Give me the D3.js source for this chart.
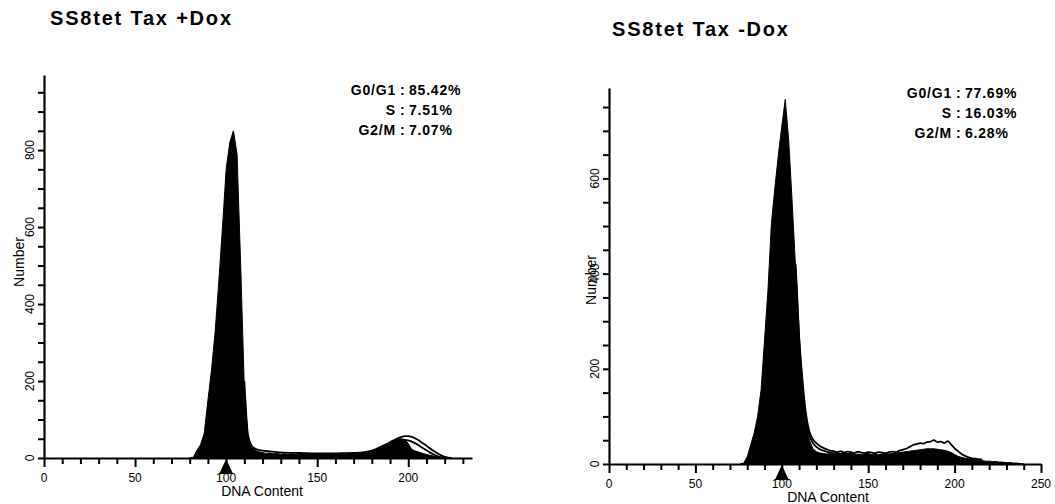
<html>
  <script src="https://d3js.org/d3.v7.min.js"></script>
  <body style="margin:0;background:#fff">
    <script>
      // ---- SS8tet Tax +Dox ----
      let leftChannels = [80, 82, 84, 86, 88, 90, 92, 94, 96, 98,
                          100, 102, 104, 106, 108, 110, 112, 114, 116, 118,
                          120, 122, 124, 126, 128, 130, 132, 134, 136, 138,
                          140, 142, 144, 146, 148, 150, 152, 154, 156, 158,
                          160, 162, 164, 166, 168, 170, 172, 174, 176, 178,
                          180, 182, 184, 186, 188, 190, 192, 194, 196, 198,
                          200, 202, 204, 206, 208, 210, 212, 214, 216, 218, 220];
      let leftCounts = [0, 2, 20, 35, 65, 150, 230, 330, 460, 600,
                        750, 820, 850, 790, 500, 180, 50, 28, 20, 16,
                        14, 12, 13, 11, 12, 10, 11, 9, 11, 10,
                        9, 11, 10, 9, 11, 10, 9, 10, 11, 9,
                        10, 11, 10, 9, 11, 12, 11, 13, 14, 16,
                        18, 22, 26, 30, 36, 42, 46, 48, 50, 48,
                        38, 22, 18, 15, 12, 9, 7, 5, 3, 1, 0];
      // fitted curves drawn as outlines
      let leftFitChannels = [110, 112, 114, 116, 118, 120, 124, 128, 132, 140, 150, 160, 170, 176,
                             180, 184, 188, 192, 196, 198, 200, 202, 206, 210, 214, 218, 222, 224];
      let leftFit = [200, 60, 32, 24, 21, 19, 17, 15, 14, 13, 12, 12, 13, 15,
                     19, 27, 36, 46, 54, 57, 57, 55, 45, 32, 18, 7, 1, 0];
      let leftG2Channels = [184, 188, 192, 196, 198, 200, 204, 208, 212, 216, 220];
      let leftG2 = [20, 30, 40, 46, 47, 46, 38, 26, 14, 5, 0];
      let leftStats = [["G0/G1", "85.42%"], ["S", "7.51%"], ["G2/M", "7.07%"]];

      // ---- SS8tet Tax -Dox ----
      let rightChannels = [76, 78, 80, 82, 84, 86, 88, 90, 92, 94,
                           96, 98, 100, 102, 104, 106, 108, 110, 112, 114,
                           116, 118, 120, 122, 124, 126, 128, 130, 132, 134,
                           136, 138, 140, 142, 144, 146, 148, 150, 152, 154,
                           156, 158, 160, 162, 164, 166, 168, 170, 172, 174,
                           176, 178, 180, 182, 184, 186, 188, 190, 192, 194,
                           196, 198, 200, 202, 204, 206, 208, 210, 212, 214,
                           216, 218, 220, 222, 224, 226, 228, 230, 232, 234,
                           236, 238, 240];
      let rightCounts = [0, 2, 15, 40, 65, 100, 156, 260, 366, 507,
                         580, 650, 710, 766, 680, 550, 410, 255, 156, 86,
                         50, 32, 26, 23, 22, 21, 22, 20, 21, 22,
                         20, 21, 22, 20, 21, 20, 21, 22, 20, 21,
                         20, 21, 22, 21, 22, 23, 24, 25, 26, 27,
                         28, 29, 30, 31, 32, 32, 32, 31, 30, 29,
                         27, 24, 20, 16, 14, 12, 11, 10, 9, 8,
                         7, 6, 6, 5, 5, 4, 4, 3, 3, 2,
                         2, 1, 0];
      let rightDataChannels = [108, 110, 112, 114, 116, 118, 120, 122, 124, 126,
                               128, 130, 132, 134, 136, 138, 140, 142, 144, 146,
                               148, 150, 152, 154, 156, 158, 160, 162, 164, 166,
                               168, 170, 172, 174, 176, 178, 180, 182, 184, 186,
                               188, 190, 192, 194, 196, 198, 200, 202, 204, 206,
                               208, 210, 212, 214, 216];
      let rightData = [420, 270, 175, 105, 68, 52, 44, 38, 34, 31,
                       28, 27, 25, 27, 24, 26, 25, 23, 26, 24,
                       23, 25, 24, 23, 25, 24, 23, 25, 26, 25,
                       28, 30, 32, 36, 40, 42, 44, 43, 46, 47,
                       50, 46, 47, 44, 48, 41, 33, 27, 21, 17,
                       14, 12, 11, 10, 9];
      let rightFitChannels = [108, 110, 112, 114, 116, 118, 120, 124, 128, 134, 140];
      let rightFit = [410, 262, 165, 95, 60, 44, 36, 28, 24, 22, 21];
      let rightStats = [["G0/G1", "77.69%"], ["S", "16.03%"], ["G2/M", "6.28%"]];

      let yTickValues = [0, 50, 100, 150, 200, 250, 300, 350, 400, 450, 500, 550, 600, 650, 700, 750, 800, 850, 900, 950];
      let yLabelValues = [0, 200, 400, 600, 800];
      let xTickValues = [0, 10, 20, 30, 40, 50, 60, 70, 80, 90, 100, 110, 120, 130, 140, 150, 160, 170, 180, 190, 200, 210, 220, 230, 240, 250];

      let width = 1055;
      let height = 504;
      let font = "'Liberation Sans', Arial, Helvetica, sans-serif";
      let svg = d3.select("body").append("svg")
                  .attr("width", width)
                  .attr("height", height)
                  .style("font-family", font);

      function drawPanel(p) {
        let x = d3.scaleLinear().domain([0, p.xMax]).range([p.x0, p.x1]);
        let y = d3.scaleLinear().domain([0, p.yMax]).range([p.yBase, p.yTop]);

        // histogram, filled black
        let pts = p.channels.map((c, i) => [c, p.counts[i]]);
        let area = d3.area().x(d => x(d[0])).y0(y(0)).y1(d => y(d[1]));
        svg.append("path").attr("d", area(pts)).attr("fill", "black")
           .attr("stroke", "black").attr("stroke-width", 1);

        // outline curves
        let line = d3.line().x(d => x(d[0])).y(d => y(d[1])).curve(d3.curveMonotoneX);
        p.lines.forEach(l => {
          let lp = l.channels.map((c, i) => [c, l.values[i]]);
          svg.append("path").attr("d", line(lp)).attr("fill", "none")
             .attr("stroke", "black").attr("stroke-width", 1.8);
        });

        // y axis
        let yAxis = svg.append("g").attr("transform", `translate(${p.x0},0)`)
           .call(d3.axisLeft(y).tickValues(yTickValues.filter(v => v < p.yMax))
                 .tickSize(6).tickSizeOuter(0).tickFormat(""));
        yAxis.select(".domain").attr("stroke-width", 2.2);
        yAxis.selectAll(".tick line").attr("stroke-width", 2);
        yLabelValues.filter(v => v < p.yMax).forEach(v => {
          svg.append("text")
             .attr("transform", `translate(${p.x0 - 10},${y(v)}) rotate(-90)`)
             .attr("text-anchor", "middle")
             .attr("font-size", 12)
             .attr("fill", "#000")
             .text(v);
        });
        svg.append("text")
           .attr("transform", `translate(${p.numberX},${p.numberY}) rotate(-90)`)
           .attr("text-anchor", "middle")
           .attr("font-size", 14)
           .attr("fill", "#000")
           .text("Number");

        // x axis
        let xAxis = svg.append("g").attr("transform", `translate(0,${p.yBase})`)
           .call(d3.axisBottom(x).tickValues(xTickValues.filter(v => v <= p.xMax))
                 .tickSize(6).tickSizeOuter(0).tickFormat(""));
        xAxis.select(".domain").attr("stroke-width", 2.2);
        xAxis.selectAll(".tick line").attr("stroke-width", 2)
             .attr("y2", d => d % 50 === 0 ? 9 : 6);
        xTickValues.filter(v => v % 50 === 0 && v <= p.xMax).forEach(v => {
          svg.append("text").attr("x", x(v)).attr("y", p.yBase + 24)
             .attr("text-anchor", "middle").attr("font-size", 12)
             .attr("fill", "#000").text(v);
        });
        svg.append("text").attr("x", p.dnaX).attr("y", p.yBase + 38)
           .attr("text-anchor", "middle").attr("font-size", 14)
           .attr("fill", "#000").text("DNA Content");

        // marker at channel 100
        let m = x(100);
        svg.append("path")
           .attr("d", `M${m},${p.yBase + 1}L${m + 7},${p.yBase + 16}L${m - 7},${p.yBase + 16}Z`)
           .attr("fill", "black");

        // title
        svg.append("text").attr("x", p.titleX).attr("y", p.titleY)
           .attr("font-size", 20).attr("font-weight", "bold")
           .attr("letter-spacing", 1.8).text(p.title);

        // stats
        p.stats.forEach((s, i) => {
          let ty = p.statY + i * 20;
          svg.append("text").attr("x", p.colonX - 4).attr("y", ty)
             .attr("text-anchor", "end").attr("font-size", 14).attr("font-weight", "bold")
             .attr("letter-spacing", 0.8).text(s[0]);
          svg.append("text").attr("x", p.colonX).attr("y", ty)
             .attr("font-size", 14).attr("font-weight", "bold").text(":");
          svg.append("text").attr("x", p.colonX + 9).attr("y", ty)
             .attr("font-size", 14).attr("font-weight", "bold")
             .attr("letter-spacing", 0.8).text(s[1]);
        });
      }

      drawPanel({
        title: "SS8tet Tax +Dox", titleX: 50, titleY: 25,
        channels: leftChannels, counts: leftCounts,
        lines: [{channels: leftFitChannels, values: leftFit},
                {channels: leftG2Channels, values: leftG2}],
        stats: leftStats, colonX: 400, statY: 95,
        xMax: 235, yMax: 995,
        x0: 44, x1: 472, yBase: 458, yTop: 75,
        numberX: 24, numberY: 262, dnaX: 262
      });

      drawPanel({
        title: "SS8tet Tax -Dox", titleX: 612, titleY: 36,
        channels: rightChannels, counts: rightCounts,
        lines: [{channels: rightDataChannels, values: rightData},
                {channels: rightFitChannels, values: rightFit}],
        stats: rightStats, colonX: 956, statY: 98,
        xMax: 250, yMax: 790,
        x0: 609, x1: 1041, yBase: 464, yTop: 88,
        numberX: 596, numberY: 280, dnaX: 828
      });
    </script>
  </body>
</html>
